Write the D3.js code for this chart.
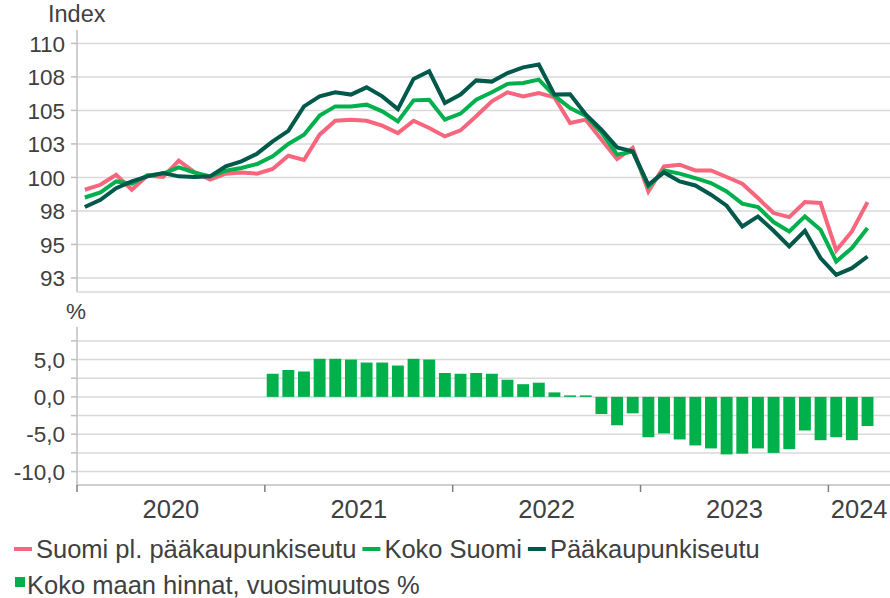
<!DOCTYPE html>
<html>
<head>
<meta charset="utf-8">
<script src="https://cdn.jsdelivr.net/npm/d3@7"></script>
<style>
  body { margin: 0; background: #fff; }
  svg { display: block; font-family: "Liberation Sans", Arial, sans-serif; }
</style>
</head>
<body>
<div id="chart"></div>
<script>
// months Jan 2020 .. Apr 2024 (axis), data through Mar 2024
const years = [2020, 2021, 2022, 2023, 2024];
const monthCount = 52;

// index series (2020 = 100)
const suomiPl = [99.08, 99.45, 100.2, 99.08, 100.15, 100.03, 101.25, 100.4, 99.83, 100.28, 100.37, 100.28,
  100.63, 101.62, 101.3, 103.19, 104.23, 104.31, 104.23, 103.86, 103.31, 104.23, 103.69, 103.06,
  103.51, 104.56, 105.68, 106.35, 106.05, 106.3, 105.97, 104.06, 104.31, 102.82, 101.37, 102.2,
  98.95, 100.82, 100.95, 100.52, 100.52, 100.03, 99.53, 98.46, 97.34, 97.04, 98.16, 98.09,
  94.55, 95.97, 98.16];
const kokoSuomi = [98.5, 98.88, 99.7, 99.53, 100.15, 100.28, 100.75, 100.37, 100.08, 100.5, 100.7, 101.0,
  101.57, 102.5, 103.19, 104.61, 105.3, 105.3, 105.43, 104.93, 104.18, 105.75, 105.8, 104.31,
  104.76, 105.8, 106.35, 106.98, 107.05, 107.3, 106.1, 105.18, 104.6, 103.36, 101.7, 101.94,
  99.33, 100.52, 100.28, 99.95, 99.58, 98.95, 98.04, 97.79, 96.67, 95.97, 97.09, 96.09,
  93.73, 94.73, 96.22];
const paakaupunkiseutu = [97.79, 98.33, 99.2, 99.7, 100.08, 100.33, 100.08, 100.03, 100.08, 100.82, 101.2, 101.77,
  102.69, 103.47, 105.3, 106.05, 106.35, 106.18, 106.72, 106.05, 105.1, 107.35, 107.92, 105.56,
  106.18, 107.24, 107.15, 107.79, 108.21, 108.42, 106.18, 106.2, 104.7, 103.56, 102.24, 101.94,
  99.45, 100.37, 99.7, 99.4, 98.71, 97.89, 96.34, 97.09, 96.02, 94.85, 96.02, 93.98,
  92.73, 93.23, 94.1];

// yearly change %, starts Jan 2021 (month index 12)
const changeStart = 12;
const vuosimuutos = [3.1, 3.6, 3.4, 5.1, 5.1, 5.0, 4.6, 4.6, 4.2, 5.1, 5.0, 3.2,
  3.1, 3.2, 3.1, 2.3, 1.7, 1.9, 0.6, 0.2, 0.2, -2.3, -3.8, -2.2,
  -5.4, -4.9, -5.7, -6.5, -6.9, -7.7, -7.6, -6.9, -7.5, -7.0, -4.5, -5.8,
  -5.4, -5.8, -3.9];

const indexTicks = [92.5, 95, 97.5, 100, 102.5, 105, 107.5, 110];
const pctGrid = [-10, -7.5, -5, -2.5, 0, 2.5, 5, 7.5];
const pctLabels = [-10, -5, 0, 5];

const series = [
  {name: "Suomi pl. pääkaupunkiseutu", values: suomiPl, color: "#f7667d"},
  {name: "Koko Suomi", values: kokoSuomi, color: "#00b04c"},
  {name: "Pääkaupunkiseutu", values: paakaupunkiseutu, color: "#00594a"}
];

const width = 890, height = 598;
const textColor = "#404040", gridColor = "#d9d9d9", axisColor = "#bfbfbf";

const svg = d3.select("#chart").append("svg")
  .attr("width", width).attr("height", height);

const x = d3.scaleBand()
  .domain(d3.range(monthCount))
  .range([77, 891])
  .paddingInner(0.24)
  .paddingOuter(0.12);
const cx = i => x(i) + x.bandwidth() / 2;

const yTop = d3.scaleLinear().domain([91.45, 111.0]).range([292, 30]);
const yBot = d3.scaleLinear().domain([-11.8, 9.4]).range([485, 326.7]);

// ---- top panel grid + axis
const gTop = svg.append("g");
gTop.selectAll("line.grid").data(indexTicks).join("line")
  .attr("x1", 77).attr("x2", width)
  .attr("y1", d => yTop(d)).attr("y2", d => yTop(d))
  .attr("stroke", gridColor).attr("stroke-width", 1.5);
gTop.selectAll("line.tick").data(indexTicks).join("line")
  .attr("x1", 71).attr("x2", 77)
  .attr("y1", d => yTop(d)).attr("y2", d => yTop(d))
  .attr("stroke", axisColor).attr("stroke-width", 1.5);
gTop.selectAll("text").data(indexTicks).join("text")
  .attr("x", 65).attr("y", d => yTop(d)).attr("dy", "0.36em")
  .attr("text-anchor", "end").attr("font-size", 22.5).attr("fill", textColor)
  .text(d => d.toFixed(0));
gTop.append("line").attr("x1", 77).attr("x2", 77).attr("y1", 30).attr("y2", 292)
  .attr("stroke", axisColor).attr("stroke-width", 1.5);
gTop.append("line").attr("x1", 77).attr("x2", width).attr("y1", 292).attr("y2", 292)
  .attr("stroke", gridColor).attr("stroke-width", 1.5);
svg.append("text").attr("x", 48).attr("y", 22).attr("font-size", 23.5)
  .attr("fill", textColor).text("Index");

// lines
const line = d3.line().x((d, i) => cx(i)).y(d => yTop(d));
svg.append("g").selectAll("path").data(series).join("path")
  .attr("d", d => line(d.values))
  .attr("fill", "none").attr("stroke", d => d.color)
  .attr("stroke-width", 4).attr("stroke-linejoin", "miter").attr("stroke-linecap", "butt");

// ---- bottom panel
const gBot = svg.append("g");
gBot.selectAll("line.grid").data(pctGrid).join("line")
  .attr("x1", 77).attr("x2", width)
  .attr("y1", d => yBot(d)).attr("y2", d => yBot(d))
  .attr("stroke", gridColor).attr("stroke-width", 1.5);
gBot.selectAll("line.tick").data(pctGrid).join("line")
  .attr("x1", 71).attr("x2", 77)
  .attr("y1", d => yBot(d)).attr("y2", d => yBot(d))
  .attr("stroke", axisColor).attr("stroke-width", 1.5);
gBot.selectAll("text").data(pctLabels).join("text")
  .attr("x", 65).attr("y", d => yBot(d)).attr("dy", "0.36em")
  .attr("text-anchor", "end").attr("font-size", 22.5).attr("fill", textColor)
  .text(d => d.toFixed(1).replace(".", ","));
gBot.append("line").attr("x1", 77).attr("x2", 77).attr("y1", 326.7).attr("y2", 485)
  .attr("stroke", axisColor).attr("stroke-width", 1.5);
svg.append("text").attr("x", 66).attr("y", 319).attr("font-size", 22.5)
  .attr("fill", textColor).text("%");

// bars
svg.append("g").selectAll("rect").data(vuosimuutos).join("rect")
  .attr("x", (d, i) => x(i + changeStart))
  .attr("width", x.bandwidth())
  .attr("y", d => yBot(Math.max(0, d)))
  .attr("height", d => Math.abs(yBot(d) - yBot(0)))
  .attr("fill", "#00b04a");

// x axis
svg.append("line").attr("x1", 77).attr("x2", width).attr("y1", 485).attr("y2", 485)
  .attr("stroke", axisColor).attr("stroke-width", 1.5);
const yearStart = years.map((y, k) => x(k * 12) - (x.step() - x.bandwidth()) / 2);
svg.append("g").selectAll("line").data(years).join("line")
  .attr("x1", (d, k) => yearStart[k]).attr("x2", (d, k) => yearStart[k])
  .attr("y1", 485).attr("y2", 492)
  .attr("stroke", "#7f7f7f").attr("stroke-width", 1.5);
svg.append("g").selectAll("text").data(years).join("text")
  .attr("x", (d, k) => (yearStart[k] + Math.min(k < years.length - 1 ? yearStart[k + 1] : width, width)) / 2)
  .attr("y", 518).attr("text-anchor", "middle").attr("font-size", 25.5).attr("fill", textColor)
  .text(d => d);

// legend
const leg = svg.append("g");
let lx = 14;
series.forEach(s => {
  leg.append("line").attr("x1", lx).attr("x2", lx + 18).attr("y1", 549).attr("y2", 549)
    .attr("stroke", s.color).attr("stroke-width", 4);
  const t = leg.append("text").attr("x", lx + 22).attr("y", 557.5)
    .attr("font-size", 25.5).attr("fill", textColor).text(s.name);
  lx += 22 + t.node().getComputedTextLength() + 6;
});
leg.append("rect").attr("x", 15).attr("y", 577).attr("width", 10).attr("height", 10)
  .attr("fill", "#00b04a");
leg.append("text").attr("x", 27).attr("y", 593.5).attr("font-size", 25.5)
  .attr("fill", textColor).text("Koko maan hinnat, vuosimuutos %");
</script>
</body>
</html>
